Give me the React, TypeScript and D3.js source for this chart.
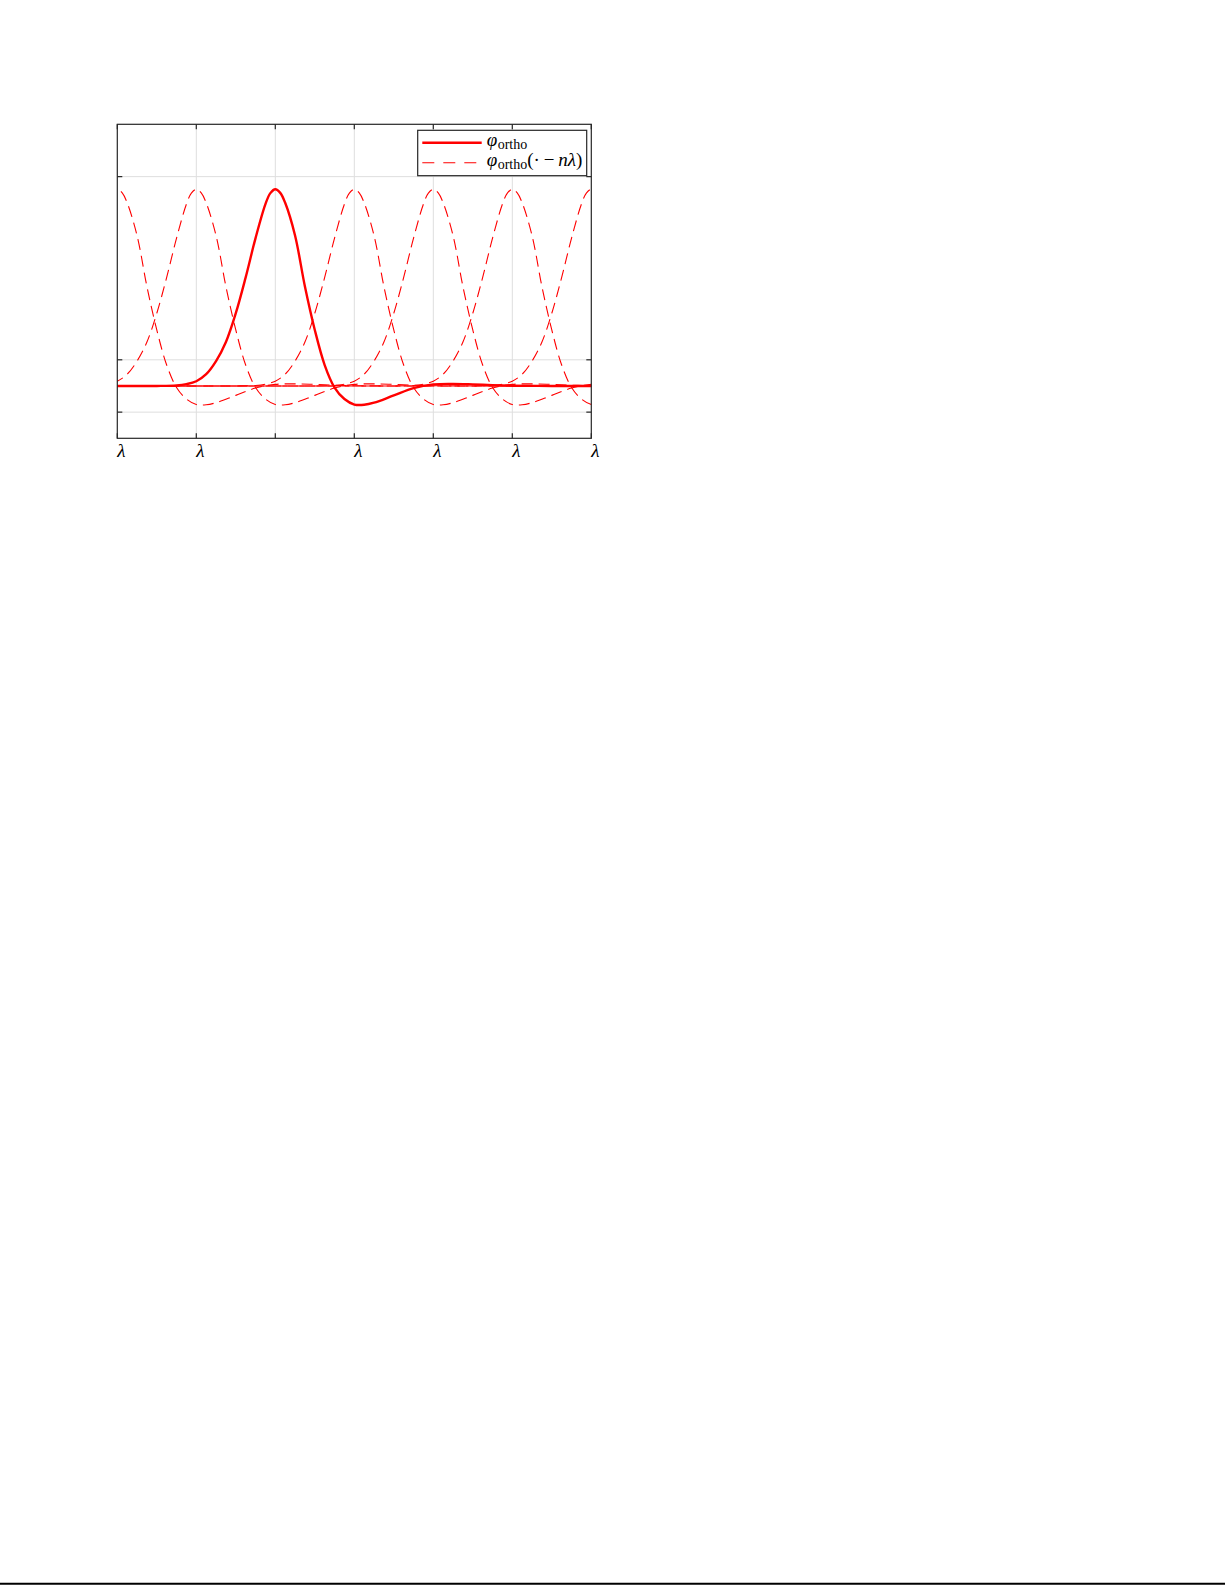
import React from "react";
import * as d3 from "d3";

// Shape of φ_ortho sampled at offsets (in units of λ) from its centre
const phiOffsets = [-6, -5, -4, -3, -2, -1.5, -1.25, -1.125, -1.0, -0.875, -0.75, -0.625, -0.5, -0.375, -0.25, -0.125, -0.0625, 0, 0.0625, 0.125, 0.25, 0.375, 0.5, 0.625, 0.75, 0.875, 1.0, 1.125, 1.25, 1.5, 1.75, 2.0, 2.25, 2.5, 2.75, 3.0, 3.5, 4, 5, 6];
const phiValues = [0, 0, 0, 0, 0, 0, 0.002, 0.007, 0.018, 0.045, 0.095, 0.168, 0.278, 0.415, 0.565, 0.695, 0.737, 0.752, 0.738, 0.70, 0.575, 0.38, 0.214, 0.08, -0.006, -0.05, -0.071, -0.072, -0.064, -0.036, -0.008, 0.006, 0.008, 0.006, 0.003, 0.001, 0, 0, 0, 0];

// shifts n of the dashed copies φ_ortho(· − nλ)
const shifts = [-2, -1, 1, 2, 3, 4];

const xDomain = [-2, 4];
const yDomain = [-0.2, 1.0];
const xTicks = [-2, -1, 0, 1, 2, 3, 4];
const xTickLabels = ["λ", "λ", "", "λ", "λ", "λ", "λ"];
const yTicks = [-0.1, 0.1, 0.8];

export default function App() {
  const left = 117.3, right = 591.3, top = 124.3, bottom = 438.3;
  const x = d3.scaleLinear().domain(xDomain).range([left, right]);
  const y = d3.scaleLinear().domain(yDomain).range([bottom, top]);
  const axisColor = "#262626";
  const gridColor = "#dedede";
  const red = "#ff0000";
  const font = "'Liberation Serif', 'DejaVu Serif', serif";

  const pts = (n: number) => phiOffsets.map((o, i) => [o + n, phiValues[i]] as [number, number]);
  const line = d3
    .line<[number, number]>()
    .x((d) => x(d[0]))
    .y((d) => y(d[1]))
    .curve(d3.curveCatmullRom.alpha(0.5));

  const tickLen = 5;

  return (
    <svg width={1225} height={1585} style={{ position: "absolute", left: 0, top: 0 }}>
      <defs>
        <clipPath id="plotclip">
          <rect x={left} y={top} width={right - left} height={bottom - top} />
        </clipPath>
      </defs>
      <rect x={0} y={0} width={1225} height={1585} fill="#fff" />
      {/* grid */}
      {xTicks.slice(1, -1).map((t) => (
        <line key={"gx" + t} x1={x(t)} x2={x(t)} y1={top} y2={bottom} stroke={gridColor} strokeWidth={1} />
      ))}
      {yTicks.map((t) => (
        <line key={"gy" + t} x1={left} x2={right} y1={y(t)} y2={y(t)} stroke={gridColor} strokeWidth={1} />
      ))}
      {/* curves */}
      <g clipPath="url(#plotclip)">
        {shifts.map((n) => (
          <path key={"d" + n} d={line(pts(n)) || ""} fill="none" stroke={red} strokeWidth={1.1} strokeDasharray="11 6" />
        ))}
        <path d={line(pts(0)) || ""} fill="none" stroke={red} strokeWidth={2.4} />
      </g>
      {/* axes box */}
      <rect x={left} y={top} width={right - left} height={bottom - top} fill="none" stroke={axisColor} strokeWidth={1.2} />
      {/* ticks */}
      {xTicks.map((t) => (
        <g key={"tx" + t}>
          <line x1={x(t)} x2={x(t)} y1={bottom} y2={bottom - tickLen} stroke={axisColor} strokeWidth={1.2} />
          <line x1={x(t)} x2={x(t)} y1={top} y2={top + tickLen} stroke={axisColor} strokeWidth={1.2} />
        </g>
      ))}
      {yTicks.map((t) => (
        <g key={"ty" + t}>
          <line x1={left} x2={left + tickLen} y1={y(t)} y2={y(t)} stroke={axisColor} strokeWidth={1.2} />
          <line x1={right} x2={right - tickLen} y1={y(t)} y2={y(t)} stroke={axisColor} strokeWidth={1.2} />
        </g>
      ))}
      {/* tick labels */}
      {xTicks.map((t, i) => (
        <text
          key={"lx" + t}
          x={x(t) + 4}
          y={457}
          textAnchor="middle"
          fontFamily={font}
          fontStyle="italic"
          fontSize={19}
          fill="#000"
        >
          {xTickLabels[i]}
        </text>
      ))}
      {/* legend */}
      <rect x={417.7} y={130.3} width={169} height={45.4} fill="#fff" stroke={axisColor} strokeWidth={1.2} />
      <line x1={422.3} x2={481.7} y1={142.7} y2={142.7} stroke={red} strokeWidth={2.4} />
      <line x1={422.3} x2={481.7} y1={162.7} y2={162.7} stroke={red} strokeWidth={1.1} strokeDasharray="12 9" />
      <text x={486.7} y={145.5} fontFamily={font} fontSize={19} fill="#000">
        <tspan fontStyle="italic">φ</tspan>
        <tspan fontSize={14} dy={3} dx={0.5}>ortho</tspan>
      </text>
      <text x={486.7} y={165.5} fontFamily={font} fontSize={19} fill="#000">
        <tspan fontStyle="italic">φ</tspan>
        <tspan fontSize={14} dy={3} dx={0.5}>ortho</tspan>
        <tspan dy={-3}>(·{"\u2009"}−{"\u2009"}</tspan>
        <tspan fontStyle="italic">nλ</tspan>
        <tspan>)</tspan>
      </text>
      {/* bottom page rule */}
      <line x1={0} x2={1225} y1={1583.8} y2={1583.8} stroke="#000" strokeWidth={2} />
    </svg>
  );
}
